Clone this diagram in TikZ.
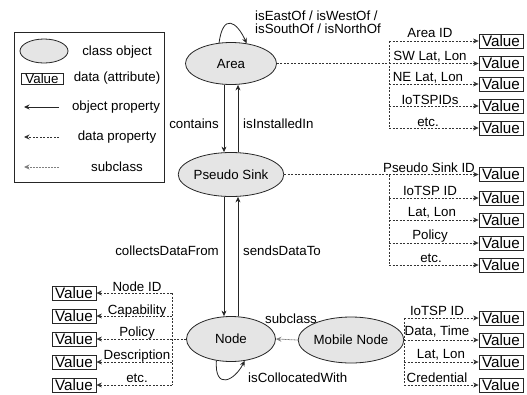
\documentclass[tikz,border=0pt]{standalone}
\usepackage{fontspec}
\setmainfont{Liberation Sans}
\usetikzlibrary{shapes.geometric,arrows.meta}
\begin{document}
\begin{tikzpicture}[x=1pt,y=-1pt,
  font=\fontsize{13.3}{13}\selectfont,
  tip/.tip={Stealth[length=5.5pt,width=5pt,inset=1.8pt]},
  cls/.style={ellipse,draw=black!85,fill=black!10,line width=0.8pt,inner sep=0pt},
  val/.style={draw=black!85,line width=0.8pt,minimum width=44pt,minimum height=14pt,inner sep=0pt,font=\fontsize{15.2}{15}\selectfont},
  objp/.style={draw=black!85,line width=0.8pt,-tip},
  datap/.style={draw=black!80,line width=0.7pt,dash pattern=on 2pt off 1.5pt,-tip},
  trunk/.style={draw=black!80,line width=0.7pt,dash pattern=on 2pt off 1.5pt},
  subc/.style={draw=black!50,line width=0.8pt,dash pattern=on 1pt off 0.5pt,-tip},
  lbl/.style={inner sep=0pt,anchor=base},
]
\useasboundingbox (0,0) rectangle (527,394);

% legend
\node[draw=black!85,line width=0.8pt,minimum width=150pt,minimum height=150pt,inner sep=0pt] (legend) at (89,107) {};
\node[cls,minimum width=48pt,minimum height=24pt] (lgell) at (44,51) {};
\node[inner sep=0pt] (lgellt) at (117,52) {class object};
\node[val,minimum width=42pt,minimum height=11pt,font=\fontsize{13.3}{13}\selectfont] (lgval) at (42,78.5) {Value};
\node[inner sep=0pt] (lgvalt) at (117,78.5) {data (attribute)};
\coordinate (lo1) at (59,107); \coordinate (lo2) at (24,107);
\draw[objp] (lo1) -- (lo2);
\node[inner sep=0pt] (lgot) at (116,107) {object property};
\coordinate (ld1) at (59,137); \coordinate (ld2) at (24,137);
\draw[datap] (ld1) -- (ld2);
\node[inner sep=0pt] (lgdt) at (117,137) {data property};
\coordinate (ls1) at (59,167); \coordinate (ls2) at (24,167);
\draw[subc] (ls1) -- (ls2);
\node[inner sep=0pt] (lgst) at (117,167) {subclass};

% classes
\node[cls,minimum width=91pt,minimum height=42pt] (Area) at (231,63.5) {Area};
\node[cls,minimum width=89pt,minimum height=44pt] (PS) at (231,174.5) {Pseudo Sink};
\node[cls,minimum width=89pt,minimum height=45pt] (Node) at (231,339) {Node};
\node[cls,minimum width=92pt,minimum height=46pt] (MN) at (351,340) {Mobile Node};

% object properties
\draw[objp] (Area.120) .. controls +(4,-30) and +(-10,-22) .. (Area.52);
\node[inner sep=0pt,align=left,anchor=west] (loopA) at (255,22) {isEastOf / isWestOf /\\isSouthOf / isNorthOf};
\draw[objp] ([xshift=-7pt]Area.south) -- ([xshift=-7pt]PS.north);
\draw[objp] ([xshift=7pt]PS.north) -- ([xshift=7pt]Area.south);
\node[lbl,anchor=base east] (contains) at (219,128) {contains};
\node[lbl,anchor=base west] (installed) at (243,128) {isInstalledIn};
\draw[objp] ([xshift=-7pt]PS.south) -- ([xshift=-7pt]Node.north);
\draw[objp] ([xshift=7pt]Node.north) -- ([xshift=7pt]PS.south);
\node[lbl,anchor=base east] (collects) at (219,255) {collectsDataFrom};
\node[lbl,anchor=base west] (sends) at (243,255) {sendsDataTo};
\draw[objp] (Node.236) .. controls +(-2,30) and +(-10,20) .. (Node.302);
\node[lbl,anchor=base west] (colloc) at (248,382) {isCollocatedWith};
\draw[subc] (MN.west) -- (Node.east);
\node[lbl] (subcl) at (291,323) {subclass};

% Area data
\foreach \i/\y in {1/41,2/63.5,3/84,4/106,5/128}{
  \node[val] (av\i) at (501,\y) {Value};
  \coordinate (a\i) at (389,\y);
}
\draw[trunk] (Area.east) -- (a2);
\draw[trunk] (a1) -- (a5);
\foreach \i in {1,...,5}{ \draw[datap] (a\i) -- (av\i.west); }
\node[lbl] (al1) at (430,37) {Area ID};
\node[lbl] (al2) at (430,60) {SW Lat, Lon};
\node[lbl] (al3) at (428,81) {NE Lat, Lon};
\node[lbl] (al4) at (430,104) {IoTSPIDs};
\node[lbl] (al5) at (428,126) {etc.};

% Pseudo Sink data
\foreach \i/\y in {1/174.5,2/198,3/220,4/243,5/265}{
  \node[val] (pv\i) at (501,\y) {Value};
  \coordinate (p\i) at (389,\y);
}
\draw[datap] (PS.east) -- (pv1.west);
\draw[trunk] (p1) -- (p5);
\foreach \i in {2,...,5}{ \draw[datap] (p\i) -- (pv\i.west); }
\node[lbl] (pl1) at (429,172) {Pseudo Sink ID};
\node[lbl] (pl2) at (430,195) {IoTSP ID};
\node[lbl] (pl3) at (432,216) {Lat, Lon};
\node[lbl] (pl4) at (430,239) {Policy};
\node[lbl] (pl5) at (431,262) {etc.};

% Node data
\foreach \i/\y in {1/293,2/316,3/339,4/362,5/385}{
  \node[val] (nv\i) at (74,\y) {Value};
  \coordinate (n\i) at (172,\y);
}
\draw[trunk] (Node.west) -- (n3);
\draw[trunk] (n1) -- (n5);
\foreach \i in {1,...,5}{ \draw[datap] (n\i) -- (nv\i.east); }
\node[lbl] (nl1) at (137,291) {Node ID};
\node[lbl] (nl2) at (137,314) {Capability};
\node[lbl] (nl3) at (137,336) {Policy};
\node[lbl] (nl4) at (137,359) {Description};
\node[lbl] (nl5) at (137,382) {etc.};

% Mobile Node data
\foreach \i/\y in {1/318,2/340,3/362,4/385}{
  \node[val] (mv\i) at (501,\y) {Value};
  \coordinate (m\i) at (404,\y);
}
\draw[trunk] (MN.east) -- (m2);
\draw[trunk] (m1) -- (m4);
\foreach \i in {1,...,4}{ \draw[datap] (m\i) -- (mv\i.west); }
\node[lbl] (ml1) at (437,315) {IoTSP ID};
\node[lbl] (ml2) at (437,335) {Data, Time};
\node[lbl] (ml3) at (441,358) {Lat, Lon};
\node[lbl] (ml4) at (437,382) {Credential};
\end{tikzpicture}
\end{document}
